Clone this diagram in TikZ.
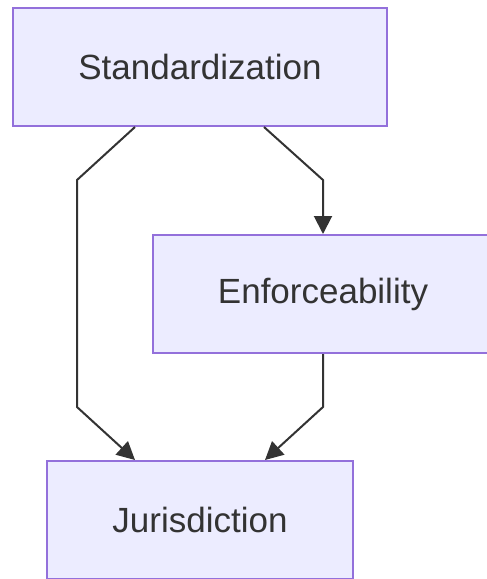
\documentclass[tikz,border=0pt]{standalone}
\usepackage{fontspec}
\setmainfont{Liberation Sans}
\usetikzlibrary{arrows.meta,positioning}
\definecolor{boxfill}{HTML}{ECECFF}
\definecolor{boxline}{HTML}{9370DB}
\definecolor{ink}{HTML}{333333}
\begin{document}
\begin{tikzpicture}[x=1pt,y=-1pt,
    main node/.style={rectangle,draw=boxline,fill=boxfill,line width=2pt,text=ink,font=\fontsize{35}{42}\selectfont,minimum height=118pt,inner sep=0pt},
    link/.style={draw=ink,line width=2pt,-{Triangle[length=18pt,width=18pt]}}]
        \useasboundingbox (0,0) rectangle (487,579);
        \node[main node, minimum width=374pt] at (200, 67) (std) {Standardization};
        \node[main node, minimum width=340pt] at (323, 294) (enf) {Enforceability};
        \node[main node, minimum width=306pt] at (200, 520) (jur) {Jurisdiction};

        \draw[link] ([xshift=-65pt]std.south) -- (77, 180) -- (77, 407) -- ([xshift=-65pt]jur.north);
        \draw[link] ([xshift=64pt]std.south) -- (323, 180) -- (enf.north);
        \draw[link] (enf.south) -- (323, 407) -- ([xshift=65pt]jur.north);
\end{tikzpicture}
\end{document}
